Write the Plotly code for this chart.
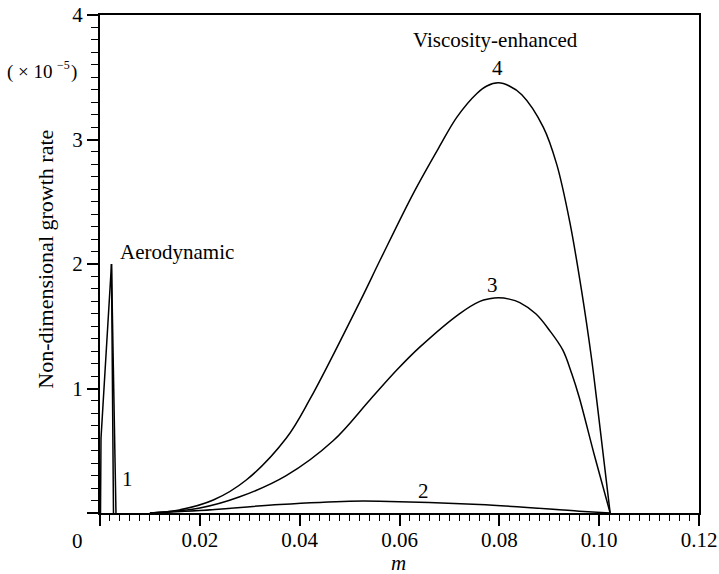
import plotly.graph_objects as go

# Curve 1 (aerodynamic), two close branches
c1_x = [0.0001, 0.0002, 0.0023, 0.0027]
c1_y = [0.0, 0.60, 2.00, 0.0]
c1b_x = [0.0023, 0.0032]
c1b_y = [2.00, 0.0]

# Curve 2
c2_x = [0.0100, 0.0200, 0.0360, 0.0500, 0.0560, 0.0760, 0.0960, 0.1022]
c2_y = [0.0, 0.020, 0.068, 0.095, 0.095, 0.068, 0.015, 0.0]

# Curve 3
c3_x = [0.0100, 0.0200, 0.0280, 0.0373, 0.0467, 0.0541, 0.0595, 0.0640, 0.0720,
        0.0761, 0.0780, 0.0798, 0.0820, 0.0841, 0.0873, 0.0900, 0.0927, 0.0945,
        0.0960, 0.0990, 0.1022]
c3_y = [0.0, 0.04, 0.13, 0.30, 0.58, 0.91, 1.15, 1.33, 1.60,
        1.70, 1.72, 1.728, 1.718, 1.69, 1.60, 1.47, 1.31, 1.12,
        0.93, 0.47, 0.0]

# Curve 4
c4_x = [0.0100, 0.0153, 0.0227, 0.0293, 0.0373, 0.0420, 0.0521, 0.0561, 0.0628,
        0.0681, 0.0715, 0.0755, 0.0775, 0.0798, 0.0820, 0.0845, 0.0888, 0.0915,
        0.0941, 0.0965, 0.0985, 0.0995, 0.1022]
c4_y = [0.0, 0.02, 0.104, 0.265, 0.60, 0.91, 1.70, 2.03, 2.57,
        2.95, 3.18, 3.37, 3.43, 3.455, 3.43, 3.36, 3.10, 2.80,
        2.34, 1.78, 1.233, 0.91, 0.0]

x_ticks = [0, 0.02, 0.04, 0.06, 0.08, 0.10, 0.12]
x_ticktext = ["", "0.02", "0.04", "0.06", "0.08", "0.10", "0.12"]
y_ticks = [0, 1, 2, 3, 4]
y_ticktext = ["", "1", "2", "3", "4"]

FONT = "Liberation Serif"
line = dict(color="black", width=1.5)

fig = go.Figure()
fig.add_trace(go.Scatter(x=c1_x, y=c1_y, mode="lines", line=line))
fig.add_trace(go.Scatter(x=c1b_x, y=c1b_y, mode="lines", line=line))
for xs, ys in [(c2_x, c2_y), (c3_x, c3_y), (c4_x, c4_y)]:
    fig.add_trace(go.Scatter(x=xs, y=ys, mode="lines",
                             line=dict(color="black", width=1.5, shape="spline", smoothing=1.0)))

axis_common = dict(
    showgrid=False, zeroline=False, showline=True, linecolor="black", linewidth=2,
    mirror=True, ticks="outside", ticklen=11, tickwidth=1.5, tickcolor="black",
    automargin=False,
    tickfont=dict(family=FONT, size=21, color="black"),
)
fig.update_xaxes(range=[0, 0.12], tickvals=x_ticks, ticktext=x_ticktext,
                 ticklabelstandoff=-4,
                 minor=dict(dtick=0.002, ticks="outside", ticklen=6, tickwidth=1.2, tickcolor="black"),
                 **axis_common)
fig.update_yaxes(range=[0, 4], tickvals=y_ticks, ticktext=y_ticktext,
                 minor=dict(dtick=0.1, ticks="outside", ticklen=7, tickwidth=1.2, tickcolor="black"),
                 **axis_common)

ann_font = dict(family=FONT, size=21, color="black")


def pann(px, py, text, size=21, **kw):
    # place an annotation centred on a pixel position of the 719x574 canvas
    return dict(x=(px - 100) / 599.0, y=(513.5 - py) / 498.5, xref="paper", yref="paper",
                text=text, showarrow=False, xanchor=kw.pop("xanchor", "center"),
                yanchor=kw.pop("yanchor", "middle"),
                font=dict(family=FONT, size=size, color="black"), **kw)


annotations = [
    dict(x=0.00555, y=0.27, text="1", xref="x", yref="y", showarrow=False, font=ann_font,
         xanchor="center", yanchor="middle"),
    dict(x=0.0648, y=0.175, text="2", xref="x", yref="y", showarrow=False, font=ann_font,
         xanchor="center", yanchor="middle"),
    dict(x=0.0787, y=1.835, text="3", xref="x", yref="y", showarrow=False, font=ann_font,
         xanchor="center", yanchor="middle"),
    dict(x=0.0797, y=3.575, text="4", xref="x", yref="y", showarrow=False, font=ann_font,
         xanchor="center", yanchor="middle"),
    dict(x=0.01537, y=2.10, text="Aerodynamic", xref="x", yref="y", showarrow=False,
         font=ann_font, xanchor="center", yanchor="middle"),
    dict(x=0.0792, y=3.80, text="Viscosity-enhanced", xref="x", yref="y", showarrow=False,
         font=ann_font, xanchor="center", yanchor="middle"),
    pann(46, 260, "Non-dimensional growth rate", size=22, textangle=-90),
    pann(55, 72, "( × 10", size=19, xanchor="right"),
    pann(55, 65, "−5", size=12, xanchor="left"),
    pann(69, 72, ")", size=19, xanchor="left"),
    pann(77, 542, "0", size=21),
    pann(398, 564, "<i>m</i>", size=21, height=20),
]

fig.update_layout(
    width=719, height=574,
    margin=dict(l=100, r=20, t=15, b=61),
    paper_bgcolor="white", plot_bgcolor="white",
    showlegend=False,
    annotations=annotations,
)

fig.write_html("out.html")
